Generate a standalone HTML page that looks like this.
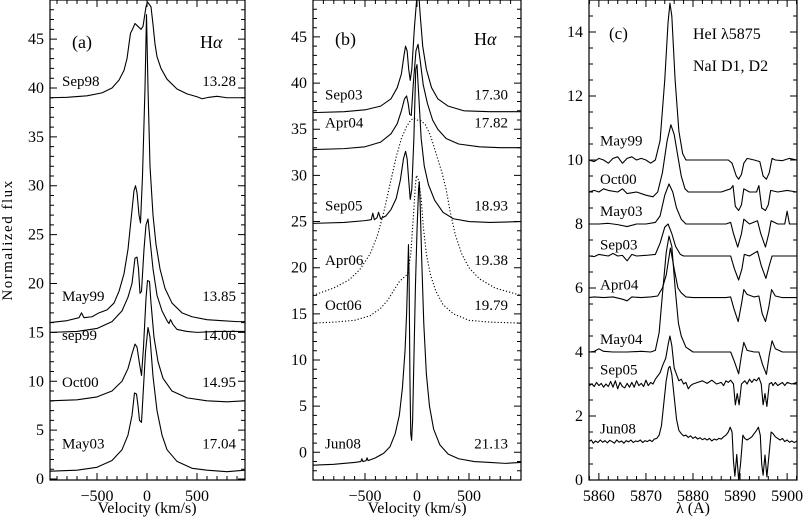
<!DOCTYPE html>
<html><head><meta charset="utf-8"><style>
html,body{margin:0;padding:0;background:#fff}
svg{display:block}
text{font-family:"Liberation Serif","DejaVu Serif",serif;fill:#000}
</style></head><body>
<svg id="fig" width="803" height="518" viewBox="0 0 803 518" xmlns="http://www.w3.org/2000/svg" font-family="Liberation Serif, DejaVu Serif, serif">
<defs>
<clipPath id="clipA"><rect x="50" y="0" width="195" height="480"/></clipPath>
<clipPath id="clipB"><rect x="313" y="0" width="208" height="480"/></clipPath>
<clipPath id="clipC"><rect x="589" y="0" width="208" height="480"/></clipPath>
</defs>
<text x="0" y="0" font-size="15" text-anchor="middle" transform="translate(12,240) rotate(-90)" letter-spacing="1.5">Normalized flux</text>
<text x="147" y="513" font-size="16" text-anchor="middle">Velocity (km/s)</text>
<text x="417" y="513" font-size="16" text-anchor="middle">Velocity (km/s)</text>
<text x="693" y="513" font-size="16" text-anchor="middle">λ (A)</text>
<text x="72" y="48" font-size="18">(a)</text>
<text x="200" y="48" font-size="18">H<tspan font-style="italic">α</tspan></text>
<text x="335" y="45" font-size="18">(b)</text>
<text x="474" y="45" font-size="18">H<tspan font-style="italic">α</tspan></text>
<text x="609" y="39" font-size="17">(c)</text>
<text x="693" y="39" font-size="16">HeI λ5875</text>
<text x="693" y="71" font-size="16">NaI D1, D2</text>
</svg>
<script>
// ---- Panel (a) data: [velocity km/s, normalized flux]
const aSep98=[[-970,39.0],[-800,39.05],[-600,39.2],[-450,39.5],[-350,40.0],[-280,40.8],[-230,41.8],[-200,43.0],[-180,44.5],[-165,45.6],[-145,46.0],[-120,46.6],[-100,46.4],[-60,46.0],[-40,46.3],[-10,48.3],[5,48.8],[40,48.3],[60,46.5],[80,44.5],[100,43.2],[140,42.0],[200,40.9],[300,39.9],[400,39.4],[500,39.1],[550,38.9],[620,39.05],[700,39.15],[800,39.0],[980,39.0]];
const aMay99=[[-970,16.0],[-800,16.2],[-680,16.5],[-655,17.0],[-630,16.5],[-550,16.6],[-480,17.0],[-400,17.3],[-330,18.0],[-280,19.2],[-230,21.0],[-190,23.5],[-160,26.5],[-130,29.5],[-115,30.0],[-100,29.3],[-80,27.0],[-65,26.2],[-45,31.0],[-20,40.0],[-5,47.5],[10,40.0],[30,32.0],[60,27.0],[90,24.0],[130,21.5],[180,19.5],[250,18.0],[350,17.0],[450,16.6],[600,16.3],[750,16.2],[900,16.1],[980,16.1]];
const aSep99=[[-970,15.0],[-700,15.1],[-500,15.4],[-350,16.1],[-250,17.2],[-190,18.6],[-150,20.0],[-120,22.6],[-100,22.7],[-85,21.5],[-70,19.0],[-55,19.2],[-30,23.5],[-10,26.0],[10,26.6],[30,24.5],[60,21.5],[100,18.8],[150,17.2],[200,16.2],[220,15.9],[235,16.3],[260,15.8],[300,15.3],[400,15.1],[500,15.0],[700,15.1],[980,15.1]];
const aOct00=[[-970,8.0],[-700,8.1],[-500,8.4],[-350,9.0],[-250,10.0],[-190,11.3],[-150,12.8],[-120,13.8],[-100,13.5],[-75,11.8],[-55,10.6],[-35,13.5],[-10,18.5],[5,20.3],[25,20.2],[40,18.0],[70,14.5],[110,12.0],[160,10.3],[250,9.0],[400,8.3],[600,8.0],[800,7.9],[980,8.0]];
const aMay03=[[-970,0.8],[-700,0.9],[-500,1.2],[-350,1.9],[-250,3.0],[-190,4.5],[-150,6.5],[-125,8.8],[-105,8.7],[-90,7.5],[-75,6.0],[-55,5.8],[-40,8.5],[-15,13.0],[10,15.5],[30,14.5],[60,10.5],[100,7.0],[150,4.5],[200,3.0],[300,1.8],[450,1.1],[600,0.9],[800,0.75],[980,0.9]];
const aLabels=["Sep98","May99","sep99","Oct00","May03"];
const aValues=["13.28","13.85","14.06","14.95","17.04"];
const aLabelFlux=[40.2,18.2,14.2,9.4,3.1];
// ---- Panel (b) data
const bSep03=[[-1000,36.8],[-700,36.9],[-500,37.1],[-350,37.5],[-250,38.3],[-190,39.5],[-150,41.0],[-125,43.0],[-110,44.0],[-95,43.5],[-80,41.5],[-65,40.3],[-50,41.5],[-25,46.0],[0,49.5],[15,50],[30,47.5],[55,44.0],[90,41.5],[140,39.5],[200,38.3],[300,37.5],[450,37.0],[700,36.9],[1000,36.9]];
const bApr04=[[-1000,32.8],[-700,32.9],[-500,33.1],[-350,33.6],[-250,34.5],[-190,35.6],[-150,37.0],[-120,38.3],[-100,38.6],[-85,37.8],[-70,36.6],[-55,36.5],[-35,40.0],[-10,43.5],[10,44.2],[30,42.5],[60,39.8],[100,37.8],[150,36.0],[200,35.0],[280,34.0],[400,33.4],[600,33.1],[800,33.0],[1000,33.0]];
const bSep05=[[-1000,24.8],[-700,24.9],[-500,25.1],[-440,25.2],[-425,25.9],[-410,25.2],[-385,25.4],[-370,26.0],[-350,25.3],[-300,25.6],[-250,26.3],[-200,27.5],[-160,29.5],[-130,31.8],[-110,32.6],[-95,31.8],[-80,29.5],[-65,27.4],[-50,28.5],[-30,34.0],[-12,41.5],[0,42.0],[15,39.0],[40,34.0],[70,31.0],[110,29.0],[170,27.3],[250,26.0],[350,25.3],[500,25.0],[700,24.9],[1000,25.0]];
const bApr06=[[-1000,17.0],[-800,17.8],[-650,18.7],[-550,19.8],[-450,21.5],[-380,23.5],[-320,26.0],[-260,29.0],[-200,32.0],[-150,34.0],[-100,35.3],[-60,36.0],[-30,36.2],[0,36.0],[40,35.9],[80,35.5],[130,34.3],[180,32.5],[240,30.3],[280,28.5],[320,26.0],[370,23.5],[430,21.5],[500,20.0],[600,18.8],[750,17.8],[1000,17.0]];
const bOct06=[[-1000,14.0],[-800,14.1],[-600,14.3],[-450,14.8],[-350,15.6],[-280,16.5],[-220,17.6],[-170,18.5],[-120,19.0],[-90,19.3],[-60,21.5],[-35,25.5],[-15,29.0],[-5,30.0],[15,29.5],[40,27.5],[60,24.5],[90,21.5],[130,19.2],[180,17.5],[250,16.0],[350,15.0],[500,14.3],[700,14.1],[1000,14.0]];
const bJun08=[[-1000,-1.4],[-800,-1.3],[-600,-1.1],[-540,-1.0],[-530,-0.7],[-520,-1.0],[-490,-0.9],[-480,-0.6],[-470,-0.9],[-400,-0.6],[-320,-0.1],[-260,0.6],[-210,2.0],[-170,4.0],[-140,7.0],[-115,11.0],[-100,15.0],[-90,19.0],[-82,22.5],[-76,19.0],[-68,8.0],[-60,2.0],[-52,1.3],[-42,3.5],[-30,10.0],[-15,18.0],[0,24.0],[15,28.5],[22,29.3],[30,27.0],[45,21.0],[65,14.0],[90,8.5],[120,5.0],[160,2.5],[220,0.8],[300,-0.2],[400,-0.7],[550,-1.0],[700,-1.1],[850,-1.2],[1000,-1.1]];
const bLabels=["Sep03","Apr04","Sep05","Apr06","Oct06","Jun08"];
const bValues=["17.30","17.82","18.93","19.38","19.79","21.13"];
const bLabelFlux=[38.2,35.2,26.2,20.3,15.4,0.4];
// ---- Panel (c) data: [wavelength A, normalized flux]
const cMay99=[[5857.9,10.0],[5859,9.95],[5860,10.05],[5861,10.0],[5862,9.9],[5863,10.05],[5864,10.1],[5865,9.9],[5866,10.05],[5867,10.1],[5868,10.0],[5869,10.05],[5870,10.0],[5871,9.9],[5872,10.0],[5873,10.6],[5874,12.5],[5874.7,14.3],[5875.1,14.9],[5875.5,14.5],[5876.2,12.5],[5877,10.9],[5877.8,10.2],[5878.5,10.0],[5880,10.0],[5884,10.0],[5887.5,10.0],[5888.3,9.9],[5889.2,9.5],[5889.7,9.4],[5890.3,9.55],[5890.8,9.9],[5891.5,10.05],[5893,10.0],[5894.2,9.95],[5894.9,9.5],[5895.6,9.4],[5896.2,9.6],[5896.8,10.05],[5897.5,10.0],[5899,9.98],[5900.5,10.05],[5902.1,10.0]];
const cOct00=[[5857.9,9.0],[5859,9.05],[5860,9.0],[5861,9.1],[5862,9.05],[5864,9.0],[5865,9.1],[5866,8.95],[5868,9.0],[5870,8.9],[5871.5,8.85],[5872.5,9.0],[5873.5,9.6],[5874.5,10.6],[5875.3,11.1],[5876,10.8],[5876.8,10.1],[5877.5,9.5],[5878.3,9.1],[5879,9.0],[5882,9.0],[5886,9.0],[5888,9.1],[5888.5,9.2],[5889,8.55],[5889.7,8.42],[5890.3,8.6],[5890.8,9.1],[5892,9.0],[5893.5,9.0],[5894,9.2],[5894.6,8.5],[5895.4,8.42],[5896,8.6],[5896.5,9.05],[5898,9.0],[5900,9.05],[5902.1,9.0]];
const cMay03=[[5857.9,8.0],[5860,8.0],[5862,8.02],[5864,7.98],[5866,7.92],[5868,8.0],[5870,8.0],[5872,8.05],[5873,8.25],[5874,8.9],[5874.9,9.25],[5875.7,9.0],[5876.5,8.5],[5877.5,8.15],[5878.5,8.0],[5882,8.0],[5887,8.0],[5888,8.05],[5888.6,7.7],[5889.5,7.28],[5890.3,7.7],[5890.8,8.15],[5892,8.0],[5893.7,8.1],[5894.4,7.7],[5895.4,7.28],[5896.1,7.7],[5896.6,8.1],[5898,8.0],[5899.5,8.0],[5900,8.4],[5900.5,8.0],[5902.1,8.0]];
const cSep03=[[5857.9,7.0],[5859,6.98],[5860,7.05],[5862,7.0],[5863,7.08],[5864,7.0],[5865,7.02],[5866,6.85],[5867,7.05],[5868,7.0],[5870,7.02],[5872,7.05],[5873,7.4],[5874,7.9],[5874.7,8.0],[5875.5,7.7],[5876.3,7.3],[5877.3,7.05],[5878,7.0],[5880,7.0],[5887,7.0],[5888,7.0],[5888.8,6.6],[5889.7,6.25],[5890.4,6.6],[5890.9,7.05],[5892,7.0],[5893.7,7.15],[5894.5,6.7],[5895.5,6.3],[5896.2,6.7],[5896.8,7.0],[5898,7.0],[5902.1,7.0]];
const cApr04=[[5857.9,5.7],[5859,5.72],[5861,5.7],[5863,5.72],[5865,5.65],[5866,5.6],[5867,5.72],[5869,5.7],[5871,5.72],[5872.5,5.75],[5873.5,6.0],[5874.3,6.4],[5875.2,7.25],[5876,6.6],[5876.8,6.0],[5877.5,5.85],[5878.5,5.72],[5880,5.7],[5887,5.7],[5888,5.72],[5888.7,5.35],[5889.6,4.95],[5890.3,5.5],[5890.8,5.95],[5891.5,5.8],[5893,5.72],[5894,5.75],[5894.7,5.2],[5895.4,4.95],[5896.1,5.4],[5896.7,5.95],[5897.5,5.75],[5899,5.7],[5902.1,5.7]];
const cMay04=[[5857.9,4.0],[5859,4.02],[5860,4.1],[5861,4.02],[5863,4.0],[5866,4.0],[5869,4.02],[5871,4.0],[5872,4.05],[5872.8,4.6],[5873.5,5.8],[5874.3,7.1],[5874.9,7.62],[5875.5,7.3],[5876.2,6.0],[5876.9,4.9],[5877.5,4.5],[5878.5,4.15],[5880,4.0],[5887,4.0],[5888,4.0],[5888.8,3.7],[5889.7,3.32],[5890.3,3.9],[5890.8,4.3],[5891.5,4.05],[5893,4.0],[5894,4.0],[5894.8,3.6],[5895.6,3.3],[5896.2,3.9],[5896.8,4.35],[5897.5,4.1],[5899,4.0],[5902.1,4.0]];
const cSep05=[[5857.9,2.95],[5858.5,3.0],[5859,2.92],[5859.5,3.05],[5860,2.95],[5860.5,3.02],[5861,2.9],[5861.5,3.0],[5862,2.92],[5862.5,3.08],[5863,2.9],[5863.5,3.1],[5864,2.85],[5864.5,3.05],[5865,2.92],[5865.5,2.88],[5866,3.02],[5866.5,2.9],[5867,3.05],[5867.5,2.9],[5868,3.1],[5868.5,2.95],[5869,3.02],[5869.5,2.92],[5870,3.12],[5870.5,2.95],[5871,3.05],[5871.5,3.0],[5872,3.15],[5872.5,3.25],[5873,3.35],[5873.6,3.6],[5874.2,3.8],[5874.8,4.3],[5875.1,4.5],[5875.5,4.2],[5876,3.5],[5876.5,3.3],[5877,3.1],[5877.5,3.15],[5878,3.0],[5878.5,3.05],[5879,2.85],[5879.5,2.95],[5880,3.0],[5881,3.05],[5882,3.1],[5883,3.02],[5884,3.12],[5885,3.0],[5886,3.05],[5886.5,2.95],[5887,3.1],[5887.5,3.05],[5888,3.12],[5888.6,3.0],[5889,2.35],[5889.4,2.7],[5889.8,2.35],[5890.3,3.0],[5891,3.1],[5891.5,3.0],[5892,3.15],[5892.5,3.05],[5893,3.15],[5893.5,3.1],[5894,3.2],[5894.5,3.0],[5894.9,2.35],[5895.3,2.7],[5895.7,2.3],[5896.2,3.0],[5896.7,3.05],[5897,2.95],[5897.5,3.05],[5898,2.95],[5898.5,3.0],[5899,3.05],[5899.5,2.95],[5900,3.05],[5901,3.0],[5902.1,3.05]];
const cJun08=[[5857.9,1.2],[5858.4,1.25],[5858.8,1.15],[5859.3,1.22],[5859.8,1.17],[5860.3,1.25],[5860.8,1.18],[5861.3,1.23],[5861.8,1.16],[5862.3,1.24],[5862.8,1.2],[5863.3,1.15],[5863.8,1.25],[5864.3,1.18],[5864.8,1.22],[5865.3,1.15],[5865.8,1.23],[5866.3,1.19],[5866.8,1.25],[5867.3,1.17],[5867.8,1.22],[5868.3,1.2],[5868.8,1.25],[5869.3,1.17],[5869.8,1.23],[5870.3,1.2],[5870.8,1.25],[5871.3,1.2],[5871.8,1.28],[5872.3,1.3],[5872.8,1.4],[5873.3,1.7],[5873.8,2.4],[5874.3,3.1],[5874.8,3.5],[5875.1,3.55],[5875.5,3.3],[5876,2.6],[5876.5,1.9],[5877,1.55],[5877.5,1.45],[5878,1.38],[5878.5,1.4],[5879,1.33],[5879.5,1.38],[5880,1.3],[5880.5,1.35],[5881,1.28],[5881.5,1.32],[5882,1.26],[5882.5,1.3],[5883,1.25],[5883.5,1.3],[5884,1.22],[5884.5,1.28],[5885,1.25],[5885.5,1.3],[5886,1.28],[5886.5,1.35],[5887,1.4],[5887.5,1.5],[5887.9,1.65],[5888.3,1.5],[5888.6,0.6],[5888.9,0.12],[5889.3,0.8],[5889.7,0.0],[5890.1,0.5],[5890.6,1.4],[5891,1.3],[5891.5,1.25],[5892,1.3],[5892.5,1.35],[5893,1.45],[5893.5,1.55],[5893.9,1.65],[5894.3,1.4],[5894.6,0.5],[5894.9,0.15],[5895.3,0.78],[5895.7,0.1],[5896.1,0.7],[5896.6,1.5],[5897,1.45],[5897.5,1.35],[5898,1.3],[5898.5,1.25],[5899,1.3],[5899.5,1.2],[5900,1.25],[5900.5,1.18],[5901,1.22],[5901.5,1.17],[5902.1,1.22]];
const cLabels=["May99","Oct00","May03","Sep03","Apr04","May04","Sep05","Jun08"];
const cLabelFlux=[10.45,9.25,8.25,7.2,5.95,4.25,3.3,1.45];
const aXTicks=[-500,0,500];
const bXTicks=[-500,0,500];
const cXTicks=[5860,5870,5880,5890,5900];
const aYTicks=[0,5,10,15,20,25,30,35,40,45];
const bYTicks=[0,5,10,15,20,25,30,35,40,45];
const cYTicks=[0,2,4,6,8,10,12,14];

const NS="http://www.w3.org/2000/svg";
const svg=document.getElementById('fig');
function mk(tag,attrs,parent){const e=document.createElementNS(NS,tag);for(const k in attrs)e.setAttribute(k,attrs[k]);(parent||svg).appendChild(e);return e;}

function panel(cfg){
  const sx=v=>cfg.x0+(v-cfg.xmin)/(cfg.xmax-cfg.xmin)*(cfg.x1-cfg.x0);
  const sy=v=>cfg.y1-(v-cfg.ymin)/(cfg.ymax-cfg.ymin)*(cfg.y1-cfg.y0);
  const g=mk('g',{});
  
  
  const sg=mk('g',{'clip-path':'url(#'+cfg.clip+')'},g);
  cfg.series.forEach(s=>{
    const p=mk('polyline',{points:s.data.map(d=>sx(d[0]).toFixed(2)+','+sy(d[1]).toFixed(2)).join(' '),fill:'none',stroke:'#000','stroke-width':'1.1','stroke-dasharray':s.dotted?'1.2,2':'none','stroke-linejoin':'round'},sg);
    
    
  });
  const fr=mk('rect',{x:cfg.x0,y:cfg.y0,width:cfg.x1-cfg.x0,height:cfg.y1-cfg.y0,fill:'none',stroke:'#000','stroke-width':'1.2'},g);
  
  
  let d='';
  for(let v=Math.ceil(cfg.xmin/cfg.xminor)*cfg.xminor;v<=cfg.xmax;v+=cfg.xminor){
    const major=Math.abs(v/cfg.xmajor-Math.round(v/cfg.xmajor))<1e-6;
    const L=major?7:4,x=sx(v);
    d+=`M${x},${cfg.y1}v${-L}M${x},${cfg.y0}v${L}`;
  }
  for(let v=Math.ceil(cfg.ymin/cfg.yminor)*cfg.yminor;v<=cfg.ymax+1e-9;v+=cfg.yminor){
    const major=Math.abs(v/cfg.ymajor-Math.round(v/cfg.ymajor))<1e-6;
    const L=major?7:4,y=sy(v);
    d+=`M${cfg.x0},${y}h${L}M${cfg.x1},${y}h${-L}`;
  }
  const tk=mk('path',{d:d,stroke:'#000','stroke-width':'1',fill:'none'},g);
  
  
  cfg.xticks.forEach(v=>{
    const t=mk('text',{x:sx(v),y:501,'font-size':'16','text-anchor':'middle'},g);
    
    
    t.textContent=v<0?'\u2212'+Math.abs(v):String(v);
  });
  cfg.yticks.forEach(v=>{
    const t=mk('text',{x:cfg.x0-6,y:sy(v)+5,'font-size':'16','text-anchor':'end'},g);
    
    
    t.textContent=String(v);
  });
  cfg.labels.forEach((lab,i)=>{
    const t=mk('text',{x:cfg.lx,y:sy(cfg.labelFlux[i]),'font-size':'15'},g);
    
    
    t.textContent=lab;
    if(cfg.values){
      const v=mk('text',{x:cfg.vx,y:sy(cfg.labelFlux[i]),'font-size':'15','text-anchor':'end'},g);
      
      
      v.textContent=cfg.values[i];
    }
  });
}
panel({name:'panel-a',clip:'clipA',x0:50,x1:245,y0:0,y1:480,xmin:-970,xmax:980,ymin:-0.1,ymax:49,xminor:100,xmajor:500,yminor:1,ymajor:5,xticks:aXTicks,yticks:aYTicks,lx:62,vx:236,labels:aLabels,values:aValues,labelFlux:aLabelFlux,
  series:[{id:'sep98',data:aSep98},{id:'may99',data:aMay99},{id:'sep99',data:aSep99},{id:'oct00',data:aOct00},{id:'may03',data:aMay03}]});
panel({name:'panel-b',clip:'clipB',x0:313,x1:521,y0:0,y1:480,xmin:-1000,xmax:1000,ymin:-3.0,ymax:49.0,xminor:100,xmajor:500,yminor:1,ymajor:5,xticks:bXTicks,yticks:bYTicks,lx:325,vx:508,labels:bLabels,values:bValues,labelFlux:bLabelFlux,
  series:[{id:'sep03',data:bSep03},{id:'apr04',data:bApr04},{id:'sep05',data:bSep05},{id:'apr06',data:bApr06,dotted:true},{id:'oct06',data:bOct06,dotted:true},{id:'jun08',data:bJun08}]});
panel({name:'panel-c',clip:'clipC',x0:589,x1:797,y0:0,y1:480,xmin:5857.9,xmax:5902.1,ymin:0,ymax:15,xminor:2,xmajor:10,yminor:0.5,ymajor:2,xticks:cXTicks,yticks:cYTicks,lx:600,vx:0,labels:cLabels,values:null,labelFlux:cLabelFlux,
  series:[{id:'may99',data:cMay99},{id:'oct00',data:cOct00},{id:'may03',data:cMay03},{id:'sep03',data:cSep03},{id:'apr04',data:cApr04},{id:'may04',data:cMay04},{id:'sep05',data:cSep05},{id:'jun08',data:cJun08}]});
</script>
</body></html>
